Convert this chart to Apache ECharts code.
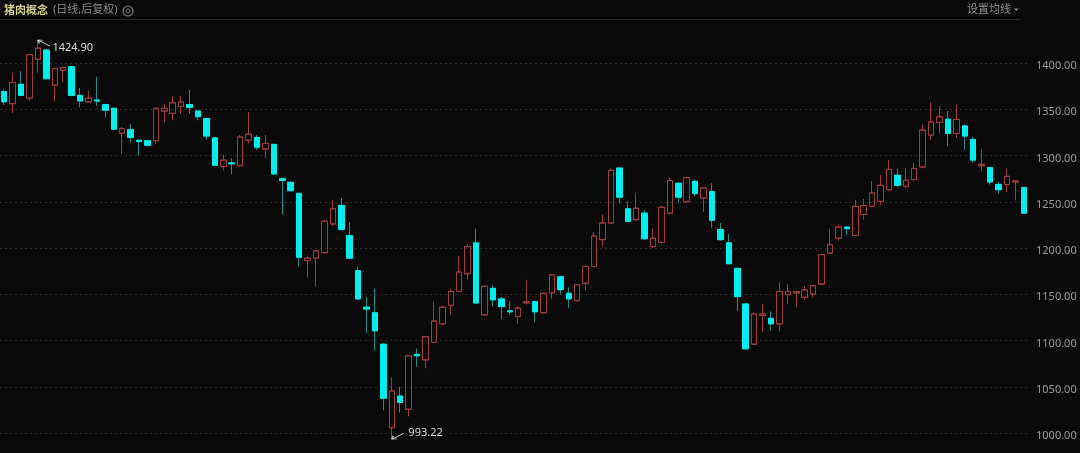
<!DOCTYPE html>
<html>
<head>
<meta charset="utf-8">
<script src="https://cdn.jsdelivr.net/npm/echarts@6/dist/echarts.min.js"></script>
<style>
html,body{margin:0;padding:0;background:#0a0a0a;}
#chart{width:1080px;height:453px;}
</style>
</head>
<body>
<div id="chart"></div>
<script>
// ---- data ----
const titleText = '猪肉概念';
const subTitleText = '(日线,后复权)';
const maButtonText = '设置均线';
const yTickValues = [1000, 1050, 1100, 1150, 1200, 1250, 1300, 1350, 1400];

const openVals = [
1369,1356,1377,1362,1404,1414,1376,1392,1396,1365,
1358,1360,1355,1351,1324,1328,1316.5,1316,1316,1348,
1345.5,1353,1355,1348,1340,1319,1288,1292,1289,1316.5,
1319.5,1307,1312,1275,1271,1259,1186.5,1189,1195,1226,
1246,1213.5,1175.5,1136,1130,1096,1005.7,1040,1025.7,1085,
1079,1098,1118,1138,1153,1172,1205.5,1127.6,1156.4,1145,
1132,1126,1140.6,1142,1130,1151.4,1169,1151,1143,1162,
1180,1209,1227,1286.5,1242.4,1230.6,1237.7,1201.6,1206,1237.7,
1270,1250,1272,1254,1261,1220,1205.6,1178,1139.5,1096,
1127,1124,1118,1149.6,1151.4,1146.7,1150.3,1161,1194.4,1210.6,
1222.6,1213.6,1236.3,1245,1250.4,1263,1278.6,1266.7,1274,1287.6,
1322,1335.7,1339.3,1323.8,1332,1317.3,1289,1287,1268.8,1268.5,
1271.3,1265.3];
const closeVals = [
1358,1379,1365,1409,1416,1383,1394,1395,1365,1359,
1362,1359,1349,1328.5,1329,1319.5,1315,1311,1351,1351,
1357,1358,1352,1342,1321,1289.5,1295,1291,1320,1323,
1309,1313,1280,1273,1262,1190,1189,1197,1229,1242.5,
1220,1189,1145,1134,1110.5,1037.5,1045.5,1033,1083.5,1083.5,
1104,1121,1136,1153,1174,1201.5,1140.5,1158.6,1144,1136.6,
1131,1135,1142,1131,1151,1171,1155,1145,1160.4,1180,
1213,1227,1284,1255,1228.7,1243,1210,1210.6,1244,1273,
1255,1276,1259,1265,1230,1209,1183,1147.4,1091,1128.7,
1128.7,1118,1153,1153,1152.8,1154.7,1159.3,1193,1203.5,1222.6,
1221,1245,1246,1259.4,1267.8,1284.8,1267.8,1273.2,1286,1327.4,
1336.4,1341.8,1323.8,1339,1321,1295,1290.5,1271.3,1263,1277.5,
1272.4,1237.7];
const lowVals = [
1354.5,1346,1364,1359,1389.5,1383,1359,1379,1364,1352,
1357,1354,1341,1328,1302,1314,1300,1310,1313,1336,
1338,1345,1345,1338,1317,1289,1284,1280,1288,1313,
1306,1297,1280,1236,1261,1180,1168,1158.5,1194,1224,
1219,1188,1144,1108,1089,1024.5,993.22,1022,1018,1071.5,
1070,1097,1116,1128,1152,1166,1140,1127,1136.6,1123,
1127.6,1118,1139,1119.6,1129,1145,1149.6,1135,1142,1154,
1179,1201.6,1226,1248,1228,1229,1209,1200,1205,1236,
1248.6,1249,1256,1239,1222,1208,1182,1132,1090,1095,
1108.7,1110.6,1110,1139.5,1136,1144,1146.7,1160,1194,1208,
1213.6,1213,1230.6,1244,1246,1262,1266,1265,1272,1286,
1317,1324,1310,1319,1306.4,1292,1283,1268.5,1258.8,1260.5,
1251.5,1237];
const highVals = [
1371.5,1389,1391,1410,1424.90,1415,1395,1396,1396.5,1373,
1370,1385,1356,1352,1331,1334,1317,1317,1352,1356,
1364,1364,1371,1349,1341,1320,1301,1297,1322,1347,
1322,1322,1313,1276,1272,1260,1191,1198,1230,1251.5,
1254,1228,1180,1147,1156,1097,1060,1050,1084,1091,
1105,1142,1138,1156,1191,1204.5,1221,1159,1160,1147,
1143,1137,1165.5,1143,1152,1172,1170,1157.5,1161,1181,
1217,1236,1286,1287,1250.4,1259.4,1241,1221,1245,1276,
1271,1277,1274,1266,1270,1227,1215,1179,1140,1130,
1139.5,1131.5,1163,1161,1154,1159,1160,1194,1221,1225.5,
1223,1252,1253,1272.4,1278.6,1295,1286,1286,1292,1333.5,
1357.4,1353.4,1348.3,1354.5,1333.5,1320,1306.4,1288,1271.3,1286,
1273,1266];

const categories = openVals.map((_, i) => 'D' + (i + 1));

// ---- build series data ----
const ohlc = openVals.map((o, i) => [o, closeVals[i], lowVals[i], highVals[i]]);
const bodies = openVals.map((o, i) => {
  const c = closeVals[i];
  return [o, c, Math.min(o, c), Math.max(o, c)];
});
let maxIdx = 0, minIdx = 0;
highVals.forEach((v, i) => { if (v > highVals[maxIdx]) maxIdx = i; });
lowVals.forEach((v, i) => { if (v < lowVals[minIdx]) minIdx = i; });

const UP_BORDER = '#a13c3c';
const DOWN_FILL = '#00eeee';
const DOWN_WICK = '#1d8f86';
const LABEL_COLOR = '#dcdcdc';
const LATIN_CJK = '"Noto Sans", "Noto Sans CJK SC"';

const chart = echarts.init(document.getElementById('chart'), null, {renderer: 'canvas'});
chart.setOption({
  backgroundColor: '#0a0a0a',
  animation: false,
  grid: {left: 0, width: 1028, top: 16.75, height: 462.5, containLabel: false, outerBoundsMode: 'none'},
  xAxis: {
    type: 'category', data: categories, boundaryGap: true,
    axisLine: {show: false}, axisTick: {show: false}, axisLabel: {show: false},
    splitLine: {show: false}
  },
  yAxis: {
    type: 'value', position: 'right', min: 950, max: 1450, interval: 50,
    axisLine: {show: false}, axisTick: {show: false},
    axisLabel: {
      color: '#9a9a9a', fontSize: 11, fontFamily: 'Noto Sans', margin: 8,
      showMaxLabel: false, showMinLabel: false,
      verticalAlign: 'top', lineHeight: 6,
      formatter: v => (yTickValues.indexOf(v) >= 0 ? v.toFixed(2) : '')
    },
    splitLine: {show: true, showMaxLine: false, lineStyle: {color: '#2c2c2c', type: [2, 3], width: 1}}
  },
  series: [
    {
      name: 'k', type: 'candlestick', data: ohlc, barWidth: 6,
      itemStyle: {color: 'transparent', color0: DOWN_FILL, borderColor: UP_BORDER, borderColor0: DOWN_WICK, borderWidth: 1},
      markPoint: {
        silent: true,
        data: [
          {
            coord: [maxIdx, highVals[maxIdx]], value: highVals[maxIdx],
            symbol: 'path://M0,0L12,6M0,0L5,0.3M0,0L1.5,3.5', symbolSize: [12, 6], symbolOffset: [6, 3],
            itemStyle: {color: 'none', borderColor: '#cfcfcf', borderWidth: 1},
            label: {show: true, position: 'right', distance: 0, offset: [-1, 5], color: LABEL_COLOR, fontSize: 11, fontFamily: 'Noto Sans',
              formatter: p => p.value.toFixed(2)}
          },
          {
            coord: [minIdx, lowVals[minIdx]], value: lowVals[minIdx],
            symbol: 'path://M0,6L12,0M0,6L5,5.7M0,6L1.5,2.5', symbolSize: [12, 6], symbolOffset: [6, -3],
            itemStyle: {color: 'none', borderColor: '#cfcfcf', borderWidth: 1},
            label: {show: true, position: 'right', distance: 0, offset: [1, -3], color: LABEL_COLOR, fontSize: 11, fontFamily: 'Noto Sans',
              formatter: p => p.value.toFixed(2)}
          }
        ]
      }
    },
    {
      name: 'body', type: 'candlestick', data: bodies, barWidth: 6, silent: true,
      itemStyle: {color: 'transparent', color0: DOWN_FILL, borderColor: UP_BORDER, borderColor0: DOWN_FILL, borderWidth: 1}
    }
  ],
  graphic: [
    {type: 'line', silent: true, shape: {x1: 0, y1: 19.5, x2: 1020, y2: 19.5}, style: {stroke: '#262626', lineWidth: 1}},
    {type: 'text', left: 4, top: 4, style: {text: titleText, fill: '#d2cf8f', font: 'bold 11px "Noto Sans CJK SC"'}},
    {type: 'text', left: 53, top: 4, style: {text: subTitleText, fill: '#8a8a8a', font: '11px ' + LATIN_CJK}},
    {type: 'circle', silent: true, shape: {cx: 128, cy: 11, r: 5}, style: {fill: 'none', stroke: '#777', lineWidth: 1.2}},
    {type: 'circle', silent: true, shape: {cx: 128, cy: 11, r: 2}, style: {fill: 'none', stroke: '#777', lineWidth: 1}},
    {type: 'text', left: 967, top: 3, style: {text: maButtonText, fill: '#8f8f8f', font: '11px "Noto Sans CJK SC"'}},
    {type: 'polygon', silent: true, shape: {points: [[1014, 8.5], [1018.5, 8.5], [1016.25, 11]]}, style: {fill: '#8f8f8f'}}
  ]
});
</script>
</body>
</html>
